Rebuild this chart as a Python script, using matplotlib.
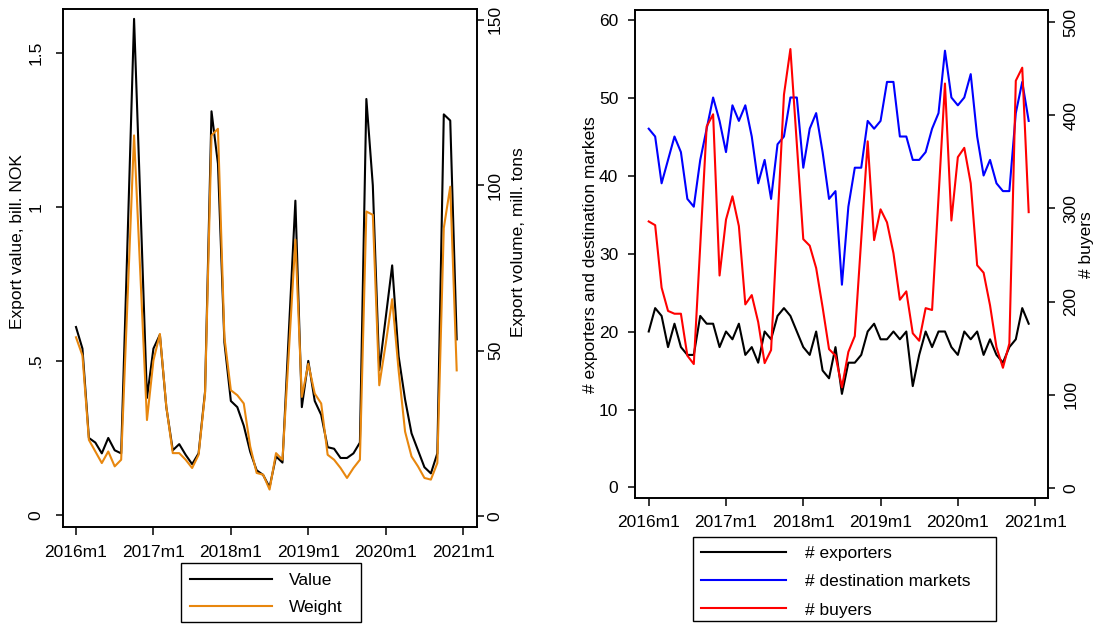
import matplotlib
matplotlib.use("Agg")
import matplotlib.pyplot as plt
from matplotlib.patches import Rectangle

plt.rcParams['font.family'] = ['Liberation Sans', 'DejaVu Sans']

# ---- data ----
tick_labels = ['2016m1', '2017m1', '2018m1', '2019m1', '2020m1', '2021m1']
tick_months = [0, 12, 24, 36, 48, 60]
months = list(range(60))  # 2016m1 .. 2020m12

value = [0.61, 0.54, 0.25, 0.235, 0.20, 0.25, 0.21, 0.20, 0.90, 1.61, 1.00, 0.38,
         0.54, 0.585, 0.35, 0.21, 0.23, 0.195, 0.165, 0.20, 0.40, 1.31, 1.14, 0.56,
         0.37, 0.35, 0.29, 0.205, 0.145, 0.13, 0.09, 0.19, 0.17, 0.60, 1.02, 0.35,
         0.50, 0.37, 0.325, 0.22, 0.215, 0.185, 0.185, 0.20, 0.235, 1.35, 1.07, 0.47,
         0.64, 0.81, 0.515, 0.375, 0.265, 0.21, 0.155, 0.135, 0.20, 1.30, 1.28, 0.57]

weight = [54, 48.5, 23, 19.5, 16, 19.5, 15, 17, 66, 115, 72, 29,
          47, 55, 33, 19, 19, 17, 14.5, 18.5, 37, 115, 117, 54,
          38, 36.5, 34, 21, 13, 12.5, 8, 19, 17, 50, 83.5, 36,
          46, 37, 34, 18.5, 17, 14.5, 11.5, 14.5, 17, 92, 91, 39.5,
          52, 65.5, 44, 25.5, 18, 15, 11.5, 11, 16, 87, 99.5, 44]

exporters = [20, 23, 22, 18, 21, 18, 17, 17, 22, 21, 21, 18,
             20, 19, 21, 17, 18, 16, 20, 19, 22, 23, 22, 20,
             18, 17, 20, 15, 14, 18, 12, 16, 16, 17, 20, 21,
             19, 19, 20, 19, 20, 13, 17, 20, 18, 20, 20, 18,
             17, 20, 19, 20, 17, 19, 17, 16, 18, 19, 23, 21]

destinations = [46, 45, 39, 42, 45, 43, 37, 36, 42, 46, 50, 47,
                43, 49, 47, 49, 45, 39, 42, 37, 44, 45, 50, 50,
                41, 46, 48, 43, 37, 38, 26, 36, 41, 41, 47, 46,
                47, 52, 52, 45, 45, 42, 42, 43, 46, 48, 56, 50,
                49, 50, 53, 45, 40, 42, 39, 38, 38, 48, 52, 47]

buyers = [286, 282, 215, 190, 187, 187, 142, 133, 260, 388, 401, 228,
          288, 313, 281, 197, 207, 178, 134, 148, 285, 422, 471, 369,
          267, 260, 236, 194, 149, 142, 108, 146, 163, 267, 372, 266,
          299, 285, 252, 202, 211, 166, 158, 193, 191, 312, 434, 287,
          355, 365, 327, 239, 231, 196, 151, 129, 155, 437, 451, 296]

# ---- styling ----
W, H = 1096, 624
FS = 12.5
LW = 1.5
ORANGE = '#E8870E'

fig = plt.figure(figsize=(W / 100, H / 100), dpi=100)
fig.patch.set_facecolor('white')


def frac(x0, y0, x1, y1):
    return [x0 / W, 1 - y1 / H, (x1 - x0) / W, (y1 - y0) / H]


def style(ax):
    for s in ax.spines.values():
        s.set_linewidth(1.2)
        s.set_color('black')


def box(x0, y0, x1, y1):
    fig.patches.append(Rectangle((x0 / W, 1 - y1 / H), (x1 - x0) / W, (y1 - y0) / H,
                                 transform=fig.transFigure, fill=False,
                                 edgecolor='black', linewidth=1.0))


# ---- left panel ----
ax1 = fig.add_axes(frac(62.7, 9.3, 476.7, 526.7))
ax1.plot(months, value, color='black', lw=LW)
ax1.set_xlim(-2.06, 62.1)
ax1.set_ylim(-0.038, 1.641)
ax1.set_yticks([0, 0.5, 1, 1.5])
ax1.set_yticklabels(['0', '.5', '1', '1.5'], rotation=90, va='center')
ax1.set_xticks(tick_months)
ax1.set_xticklabels(tick_labels)
ax1.tick_params(axis='y', length=5, width=1.1, pad=9, labelsize=FS)
ax1.tick_params(axis='x', length=6, width=1.1, pad=7, labelsize=FS)
style(ax1)

ax1b = ax1.twinx()
ax1b.plot(months, weight, color=ORANGE, lw=LW)
ax1b.set_ylim(-3.23, 153.1)
ax1b.set_yticks([0, 50, 100, 150])
ax1b.set_yticklabels(['0', '50', '100', '150'], rotation=90, va='center')
ax1b.tick_params(axis='y', length=5, width=1.1, pad=3, labelsize=FS)
style(ax1b)

fig.text(18 / W, 1 - 242 / H, 'Export value, bill. NOK', rotation=90,
         ha='center', va='center', fontsize=FS)
fig.text(519 / W, 1 - 242 / H, 'Export volume, mill. tons', rotation=90,
         ha='center', va='center', fontsize=FS)

l1, = ax1.plot([], [], color='black', lw=LW, label='Value')
l2, = ax1.plot([], [], color=ORANGE, lw=LW, label='Weight')
fig.legend(handles=[l1, l2], loc='upper left',
           bbox_to_anchor=(190 / W, 1 - 573 / H), fontsize=FS,
           frameon=False, handlelength=4.7, handletextpad=1.0,
           labelspacing=0.7, borderpad=0.0, borderaxespad=0)
box(181, 563, 361, 622)

# ---- right panel ----
ax2 = fig.add_axes(frac(635, 10, 1048, 498.3))
ax2.plot(months, exporters, color='black', lw=LW)
ax2.plot(months, destinations, color='blue', lw=LW)
ax2.set_xlim(-2.13, 62.0)
ax2.set_ylim(-1.385, 61.22)
ax2.set_yticks([0, 10, 20, 30, 40, 50, 60])
ax2.set_xticks(tick_months)
ax2.set_xticklabels(tick_labels)
ax2.tick_params(axis='y', length=5, width=1.1, pad=7, labelsize=FS)
ax2.tick_params(axis='x', length=6, width=1.1, pad=6, labelsize=FS)
style(ax2)

ax2b = ax2.twinx()
ax2b.plot(months, buyers, color='red', lw=LW)
ax2b.set_ylim(-11.05, 512.9)
ax2b.set_yticks([0, 100, 200, 300, 400, 500])
ax2b.set_yticklabels(['0', '100', '200', '300', '400', '500'], rotation=90, va='center')
ax2b.tick_params(axis='y', length=5, width=1.1, pad=6, labelsize=FS)
style(ax2b)

fig.text(590 / W, 1 - 255 / H, '# exporters and destination markets', rotation=90,
         ha='center', va='center', fontsize=FS)
fig.text(1086 / W, 1 - 245 / H, '# buyers', rotation=90,
         ha='center', va='center', fontsize=FS)

h1, = ax2.plot([], [], color='black', lw=LW, label='# exporters')
h2, = ax2.plot([], [], color='blue', lw=LW, label='# destination markets')
h3, = ax2.plot([], [], color='red', lw=LW, label='# buyers')
fig.legend(handles=[h1, h2, h3], loc='upper left',
           bbox_to_anchor=(701 / W, 1 - 546 / H), fontsize=FS,
           frameon=False, handlelength=4.9, handletextpad=1.1,
           labelspacing=0.75, borderpad=0.0, borderaxespad=0)
box(693, 537, 996, 621)

fig.savefig('out.png', dpi=100, facecolor='white')
